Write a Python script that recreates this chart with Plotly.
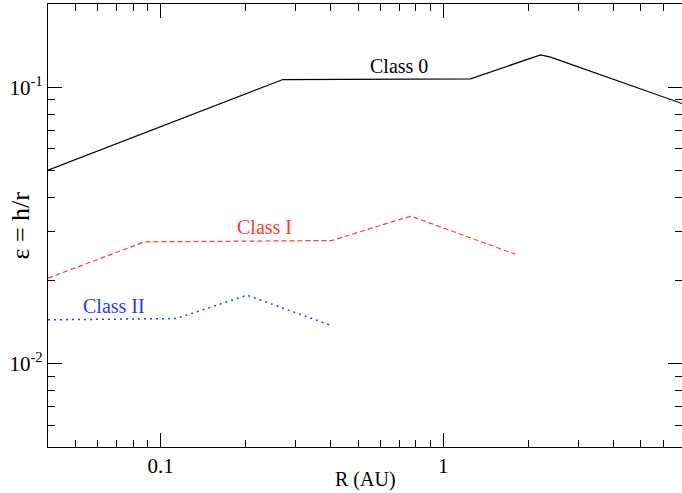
import math
import plotly.graph_objects as go

# Data (R in AU, epsilon = h/r)
class0_r = [0.04, 0.271, 1.25, 2.21, 2.40, 7.0]
class0_eps = [0.0501, 0.1066, 0.1072, 0.131, 0.1285, 0.0873]

class1_r = [0.04, 0.0878, 0.403, 0.768, 1.80]
class1_eps = [0.0204, 0.0276, 0.0279, 0.0342, 0.0249]

class2_r = [0.04, 0.1137, 0.2023, 0.395]
class2_eps = [0.01442, 0.01457, 0.0177, 0.01384]

labels = ["Class 0", "Class I", "Class II"]
label_pos_r = [0.70, 0.234, 0.0687]
label_pos_eps = [0.119, 0.0313, 0.0162]

black = "#000000"
red = "#ff3b2b"
blue = "#1f3cff"
font_family = "Liberation Serif, Times New Roman, serif"

fig = go.Figure()
fig.add_trace(go.Scatter(x=class0_r, y=class0_eps, mode="lines",
                         line=dict(color=black, width=1.2), showlegend=False))
fig.add_trace(go.Scatter(x=class1_r, y=class1_eps, mode="lines",
                         line=dict(color=red, width=1.2, dash="5px,3px"), showlegend=False))
fig.add_trace(go.Scatter(x=class2_r, y=class2_eps, mode="lines",
                         line=dict(color=blue, width=1.5, dash="2px,4px"), showlegend=False))

# annotations on log axes take log10 coordinates
for txt, xr, ye, col in zip(labels, label_pos_r, label_pos_eps, [black, red, blue]):
    fig.add_annotation(x=math.log10(xr), y=math.log10(ye), xref="x", yref="y",
                       text=txt, showarrow=False,
                       font=dict(family=font_family, size=20, color=col))

# axis titles
fig.add_annotation(x=0.5, y=0, xref="paper", yref="paper", yshift=-32,
                   text="R (AU)", showarrow=False, yanchor="middle",
                   font=dict(family=font_family, size=20, color="black"))
fig.add_annotation(x=0, y=0.5, xref="paper", yref="paper", xshift=-28,
                   text="ε = h/r", showarrow=False, textangle=-90, xanchor="center",
                   font=dict(family=font_family, size=26, color="black"))

x_minor = [0.05, 0.06, 0.07, 0.08, 0.09, 0.2, 0.3, 0.4, 0.5, 0.6, 0.7, 0.8, 0.9,
           2, 3, 4, 5, 6, 7]
y_minor = [0.005, 0.006, 0.007, 0.008, 0.009, 0.02, 0.03, 0.04, 0.05, 0.06, 0.07,
           0.08, 0.09, 0.2]

fig.update_xaxes(type="log", range=[-1.398, 0.845], automargin=False,
                 tickmode="array", tickvals=[0.1, 1], ticktext=["0.1", "1"],
                 ticks="inside", ticklen=14, tickwidth=1, tickcolor="black",
                 minor=dict(tickmode="array", tickvals=x_minor, ticks="inside",
                            ticklen=7, tickwidth=1, tickcolor="black", showgrid=False),
                 showline=True, linecolor="black", linewidth=1.2, mirror="ticks",
                 showgrid=False, zeroline=False,
                 tickfont=dict(family=font_family, size=21, color="black"))
fig.update_yaxes(type="log", range=[-2.301, -0.699], automargin=False,
                 tickmode="array", tickvals=[0.01, 0.1],
                 ticktext=["10<sup>-2</sup>", "10<sup>-1</sup>"],
                 ticks="inside", ticklen=14, tickwidth=1, tickcolor="black",
                 minor=dict(tickmode="array", tickvals=y_minor, ticks="inside",
                            ticklen=7, tickwidth=1, tickcolor="black", showgrid=False),
                 showline=True, linecolor="black", linewidth=1.2, mirror="ticks",
                 showgrid=False, zeroline=False,
                 tickfont=dict(family=font_family, size=21, color="black"))

fig.update_layout(width=682, height=493,
                  margin=dict(l=48, r=0, t=4, b=46),
                  paper_bgcolor="white", plot_bgcolor="white",
                  showlegend=False)

fig.write_html("out.html", config={"displayModeBar": False},
               post_script="document.body.style.margin='0';document.body.style.overflow='hidden';")
